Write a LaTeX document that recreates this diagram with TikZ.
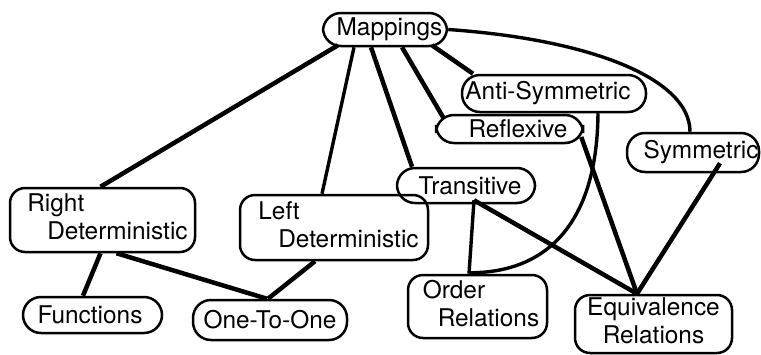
\documentclass[tikz,border=0pt]{standalone}
\usepackage{fontspec}
\setmainfont{TeX Gyre Heros}
\usetikzlibrary{calc}
\begin{document}
\begin{tikzpicture}[x=0.5pt,y=-0.5pt,
  box/.style={draw,line width=1.25pt,rounded corners=9pt,inner sep=0pt,
    font=\fontsize{12.2pt}{14pt}\selectfont},
  boxtwo/.style={box,rounded corners=7.5pt},
  link/.style={line width=2.25pt},
  linkm/.style={line width=1.7pt}]
\useasboundingbox (0,0) rectangle (761,354);
% nodes
\node[box,minimum width=62pt,minimum height=16.5pt] (map) at (385,29.5) {\hspace*{4.5pt}Mappings};
\node[box,minimum width=92pt,minimum height=18.5pt] (anti) at (554,93.5) {Anti-Symmetric\hspace*{6pt}};
\node[box,minimum width=73.5pt,minimum height=14pt] (refl) at (509.5,129) {\hspace*{8.5pt}Reflexive};
\node[box,minimum width=66pt,minimum height=19.5pt] (sym) at (693,152.5) {\hspace*{8pt}Symmetric};
\node[box,minimum width=69pt,minimum height=17.5pt] (trans) at (466,185.5) {\hspace*{4pt}Transitive};
\node[boxtwo,minimum width=92.5pt,minimum height=32pt] (rdet) at (102.5,220)
  {\hspace*{5pt}\begin{tabular}{@{}l@{}}Right\\\hspace*{10pt}Deterministic\end{tabular}};
\node[boxtwo,minimum width=94pt,minimum height=32.5pt] (ldet) at (334,227.5)
  {\hspace*{4.5pt}\begin{tabular}{@{}l@{}}Left\\\hspace*{10pt}Deterministic\end{tabular}};
\node[box,minimum width=69.5pt,minimum height=18pt] (func) at (92.5,315) {Functions\hspace*{2.5pt}};
\node[box,minimum width=77pt,minimum height=20pt] (one) at (270,320) {One-To-One};
\node[boxtwo,minimum width=69.5pt,minimum height=31.5pt] (order) at (477.5,306.5)
  {\hspace*{3.5pt}\begin{tabular}{@{}l@{}}Order\\\hspace*{7.5pt}Relations\end{tabular}};
\node[boxtwo,minimum width=78.5pt,minimum height=29pt] (equiv) at (653.5,324)
  {\begin{tabular}{@{}c@{}}Equivalence\\Relations\end{tabular}};
% connectors
\draw[link] ($(map.south)+(-47,-2)$) -- ($(rdet.north)+(-2,0)$);
\draw[linkm] ($(map.south)+(-31,0)$) -- ($(ldet.north)+(-12,0)$);
\draw[link] ($(map.south)+(-14,0)$) -- ($(trans.north)+(-54,0)$);
\draw[link] ($(map.south)+(17,0)$) -- ($(refl.north)+(-65.5,5)$);
\draw[link] ($(map.south)+(47,-2)$) -- ($(anti.north)+(-81,0)$);
\draw[linkm] (map.east) .. controls ($(map.east)+(143,10)$) and ($(sym.north)+(-3,-53)$) .. ($(sym.north)+(-3,0)$);
\draw[linkm] ($(anti.south)+(44,0)$) .. controls ($(anti.south)+(43,118)$) and ($(order.north)+(62.5,-1)$) .. ($(order.north)+(-7.5,-1)$);
\draw[link] ($(refl.east)+(-3,8)$) -- ($(equiv.north)+(-16.5,0)$);
\draw[link] ($(sym.south)+(27,-10)$) -- ($(equiv.north)+(-16.5,0)$);
\draw[link] ($(trans.south)+(8,-4)$) -- ($(equiv.north)+(-16.5,0)$);
\draw[linkm] ($(trans.south)+(8,-4)$) -- ($(order.north)+(-8.5,0)$);
\draw[link] ($(rdet.south)+(14,0)$) -- ($(one.north)+(-3,0)$);
\draw[link] ($(rdet.south)+(-2,0)$) -- ($(func.north)+(-9.5,0)$);
\draw[link] ($(ldet.south)+(-19,0)$) -- ($(one.north)+(-2,0)$);
\end{tikzpicture}
\end{document}
